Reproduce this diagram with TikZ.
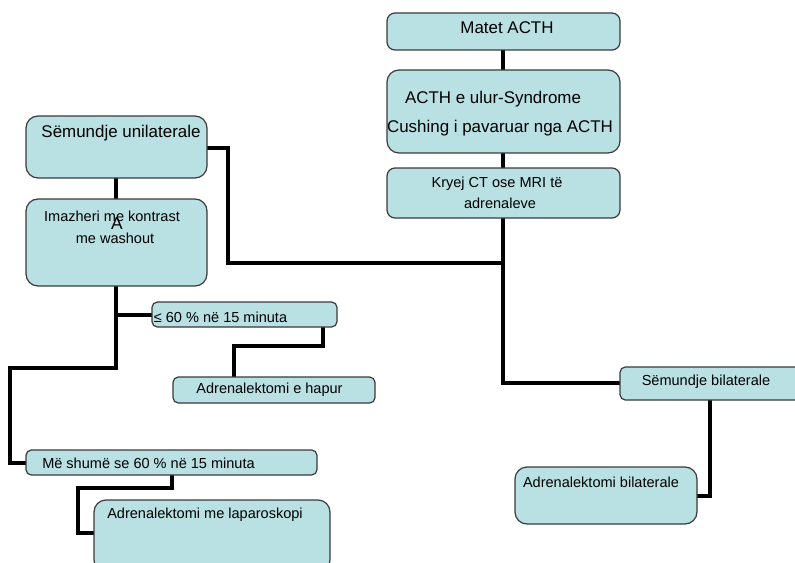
\documentclass[tikz,border=0pt]{standalone}
\usepackage{fontspec}
\setmainfont{Liberation Sans}
\usetikzlibrary{fit}
\definecolor{boxfill}{HTML}{B9E0E3}
\definecolor{boxline}{HTML}{3A3A3A}
\tikzset{
  box/.style={draw=boxline, line width=0.9pt, fill=boxfill, inner sep=0pt, rounded corners=6pt},
  thinbox/.style={box, rounded corners=4pt},
  conn/.style={line width=3.7pt, black, line join=miter},
  big/.style={inner sep=0pt, font=\fontsize{12.7}{14}\selectfont},
  small/.style={inner sep=0pt, font=\fontsize{10.9}{13}\selectfont},
}
\begin{document}
\begin{tikzpicture}[x=0.75pt,y=-0.75pt]
\useasboundingbox (0,0) rectangle (795,563);
\clip (0,0) rectangle (795,563);
% coordinates for connector bends
\coordinate (j1) at (503,263);
\coordinate (b1) at (228,148);
\coordinate (b2) at (228,263);
\coordinate (m1) at (116,315);
\coordinate (m2) at (116,368);
\coordinate (m3) at (10,368);
\coordinate (m4) at (10,463);
\coordinate (h1) at (323,346);
\coordinate (h2) at (234,346);
\coordinate (l1) at (172,488);
\coordinate (l2) at (78,488);
\coordinate (l3) at (78,533);
\coordinate (k1) at (503,383);
\coordinate (d1) at (710,496);

% connectors (drawn first, boxes on top)
\draw[conn] (503,40) -- (503,80);
\draw[conn] (503,140) -- (503,180);
\draw[conn] (503,205) -- (k1) -- (640,383);
\draw[conn] (190,148) -- (b1) -- (b2) -- (j1);
\draw[conn] (116,165) -- (116,210);
\draw[conn] (116,270) -- (m2) -- (m3) -- (m4) -- (40,463);
\draw[conn] (m1) -- (165,315);
\draw[conn] (323,315) -- (h1) -- (h2) -- (234,390);
\draw[conn] (172,465) -- (l1) -- (l2) -- (l3) -- (110,533);
\draw[conn] (710,390) -- (d1) -- (680,496);

% boxes
\node[box, fit={(387,13) (620,50)}] (matet) {};
\node[box, rounded corners=9pt, fit={(387,70) (620,153)}] (acth) {};
\node[box, fit={(387,168) (620,218)}] (kryej) {};
\node[box, rounded corners=9pt, fit={(26,116) (207,178)}] (uni) {};
\node[box, rounded corners=9pt, fit={(26,199) (207,286)}] (imaz) {};
\node[thinbox, fit={(152,302) (337,327)}] (le60) {};
\node[thinbox, fit={(173,377) (375,403)}] (hapur) {};
\node[thinbox, fit={(26,450) (317,475)}] (more) {};
\node[box, rounded corners=9pt, fit={(94,500) (330,572)}] (lap) {};
\node[thinbox, fit={(620,367) (810,400)}] (bil) {};
\node[box, rounded corners=9pt, fit={(515,467) (697,524)}] (adbil) {};

% texts
\node[big] (tmatet) at (507,28) {Matet ACTH};
\node[big] (tacth1) at (493,99) {ACTH e ulur-Syndrome};
\node[big] (tacth2) at (500,128) {Cushing i pavaruar nga ACTH};
\node[small] (tkr1) at (497,184) {Kryej CT ose MRI të};
\node[small] (tkr2) at (500,203) {adrenaleve};
\node[big] (tuni) at (121,133) {Sëmundje unilaterale};
\node[small] (tim1) at (112,216) {Imazheri me kontrast};
\node[small] (tim2) at (115,238) {me washout};
\node[inner sep=0pt, font=\fontsize{13}{14}\selectfont] (tA) at (117,224) {A};
\node[small] (tle) at (220.5,317) {≤ 60 \% në 15 minuta};
\node[small] (thap) at (269.5,390) {Adrenalektomi e hapur};
\node[small] (tmore) at (148.5,463) {Më shumë se 60 \% në 15 minuta};
\node[small] (tlap) at (205,515) {Adrenalektomi me laparoskopi};
\node[small] (tbil) at (706,382) {Sëmundje bilaterale};
\node[small] (tadbil) at (601,482) {Adrenalektomi bilaterale};
\end{tikzpicture}
\end{document}
